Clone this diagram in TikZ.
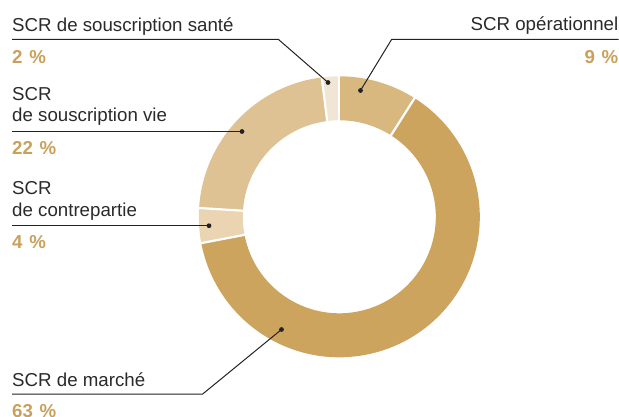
\documentclass[tikz,border=0pt]{standalone}
\usepackage{fontspec}
\setmainfont{Liberation Sans}
\definecolor{txt}{HTML}{2A2A2A}
\definecolor{ln}{HTML}{222222}
\definecolor{gold}{HTML}{C9A15A}
\definecolor{cOp}{HTML}{D9B880}
\definecolor{cMa}{HTML}{CCA45D}
\definecolor{cCo}{HTML}{EAD4B2}
\definecolor{cVi}{HTML}{DFC294}
\definecolor{cSa}{HTML}{F1E5D6}
\begin{document}
\begin{tikzpicture}[x=1pt,y=-1pt,
  lbl/.style={anchor=base west, inner sep=0pt, font=\fontsize{18.7}{21}\selectfont, text=txt},
  lble/.style={lbl, anchor=base east},
  pct/.style={lbl, font=\fontsize{18.7}{21}\selectfont\bfseries, text=gold},
  pcte/.style={pct, anchor=base east},
  leader/.style={draw=ln, line width=1pt},
  dotmark/.style={circle, fill=ln, inner sep=0pt, minimum size=4.8pt},
  sep/.style={draw=white, line width=2.2pt}]
\useasboundingbox (0,0) rectangle (619,417);
\def\Ro{140.5}
\def\Ri{96.5}
\begin{scope}[shift={(339.3,216.8)}]
  \fill[cOp] (-90:\Ro) arc[start angle=-90, end angle=-57.6, radius=\Ro] -- (-57.6:\Ri) arc[start angle=-57.6, end angle=-90, radius=\Ri] -- cycle;
  \fill[cMa] (-57.6:\Ro) arc[start angle=-57.6, end angle=169.2, radius=\Ro] -- (169.2:\Ri) arc[start angle=169.2, end angle=-57.6, radius=\Ri] -- cycle;
  \fill[cCo] (169.2:\Ro) arc[start angle=169.2, end angle=183.6, radius=\Ro] -- (183.6:\Ri) arc[start angle=183.6, end angle=169.2, radius=\Ri] -- cycle;
  \fill[cVi] (183.6:\Ro) arc[start angle=183.6, end angle=262.8, radius=\Ro] -- (262.8:\Ri) arc[start angle=262.8, end angle=183.6, radius=\Ri] -- cycle;
  \fill[cSa] (262.8:\Ro) arc[start angle=262.8, end angle=270, radius=\Ro] -- (270:\Ri) arc[start angle=270, end angle=262.8, radius=\Ri] -- cycle;
  \foreach \a in {-90,-57.6,169.2,183.6,262.8}
    \draw[sep] (\a:\Ri-3) -- (\a:\Ro+3);
\end{scope}

% dots
\node[dotmark] (dSa) at (328,82.5) {};
\node[dotmark] (dVi) at (242,131.5) {};
\node[dotmark] (dCo) at (209,225.7) {};
\node[dotmark] (dMa) at (281.5,329.5) {};
\node[dotmark] (dOp) at (360.5,90.5) {};

% santé
\node[lbl] (tSa) at (12,31.7) {SCR de souscription santé};
\node[pct] (pSa) at (12,63.3) {2\hspace{0.36em}\%};
\coordinate (sa0) at (12,39.3);
\coordinate (sa1) at (278.3,39.3);
\draw[leader] (sa0) -- (sa1) -- (dSa.center);

% vie
\node[lbl] (tVi1) at (12,100.7) {SCR};
\node[lbl] (tVi2) at (12,121.7) {de souscription vie};
\node[pct] (pVi) at (12,155) {22\hspace{0.36em}\%};
\coordinate (vi0) at (12,131.5);
\draw[leader] (vi0) -- (dVi.center);

% contrepartie
\node[lbl] (tCo1) at (12,195) {SCR};
\node[lbl] (tCo2) at (12,216) {de contrepartie};
\node[pct] (pCo) at (12,248.3) {4\hspace{0.36em}\%};
\coordinate (co0) at (12,225.7);
\draw[leader] (co0) -- (dCo.center);

% marché
\node[lbl] (tMa) at (12,386) {SCR de marché};
\node[pct] (pMa) at (12,417) {63\hspace{0.36em}\%};
\coordinate (ma0) at (12,394);
\coordinate (ma1) at (202.7,394);
\draw[leader] (ma0) -- (ma1) -- (dMa.center);

% opérationnel
\node[lble] (tOp) at (618.5,31) {SCR opérationnel};
\node[pcte] (pOp) at (618.5,63.3) {9\hspace{0.36em}\%};
\coordinate (op0) at (618.5,39.3);
\coordinate (op1) at (391.7,39.3);
\draw[leader] (op0) -- (op1) -- (dOp.center);
\end{tikzpicture}
\end{document}
